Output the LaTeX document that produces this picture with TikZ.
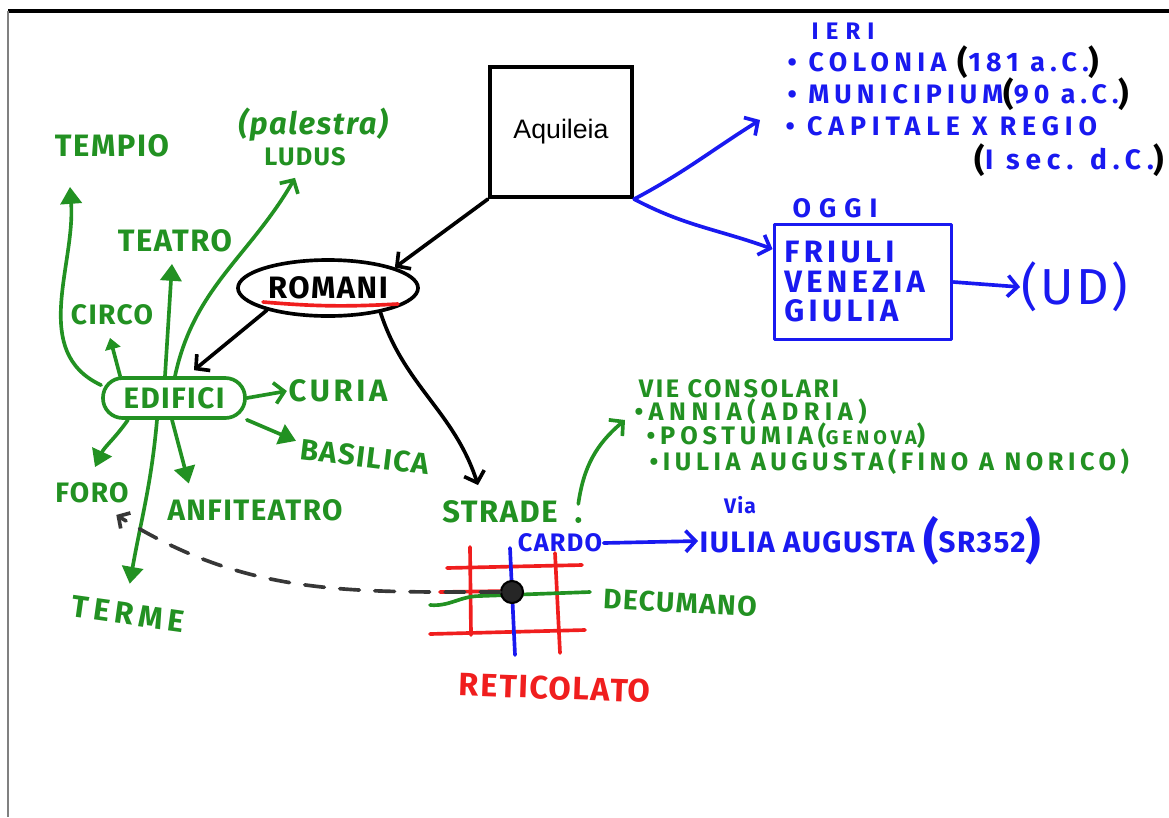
\documentclass[tikz,border=0pt]{standalone}
\usepackage{fontspec}
\setmainfont{Fira Sans}[LetterSpace=5]
\newfontfamily\arialfont{Liberation Sans}
\usetikzlibrary{arrows.meta,shapes.geometric}
\definecolor{hgreen}{RGB}{34,145,34}
\definecolor{hblue}{RGB}{25,25,240}
\definecolor{hred}{RGB}{240,30,30}
\definecolor{hgray}{RGB}{55,55,55}
\newcommand{\kpar}[1]{\raisebox{-1.5pt}{\color{black}\fontsize{23}{23}\selectfont #1}}
\newcommand{\fsz}[1]{\fontsize{#1}{#1}\selectfont}
\begin{document}
\begin{tikzpicture}[x=0.025cm,y=-0.025cm,
    pen/.style={line width=2.6pt,line cap=round,line join=round},
    tri/.style={-{Triangle[length=12pt,width=15pt]}},
    smalltri/.style={-{Triangle[length=8pt,width=11pt]}},
    barb/.style={-{Straight Barb[length=7pt,width=15pt]}},
    txt/.style 2 args={inner sep=1pt,font=\bfseries\fsz{#1}\addfontfeatures{LetterSpace=#2}},
    gtxt/.style={txt={#1}{5},text=hgreen},
    gtxt/.default=20,
    btxt/.style={txt={#1}{5},text=hblue},
    btxt/.default=20]
  \useasboundingbox (0,0) rectangle (1169,817);
  \fill[white] (0,0) rectangle (1169,817);
  \draw[line width=2.2pt] (8,11) -- (1169,11);
  \draw[gray,line width=1.5pt] (8,11) -- (8,817);

  % centre
  \node (aq) [draw,line width=3pt,minimum width=3.55cm,minimum height=3.25cm,
    font=\arialfont\fsz{19}] at (561,132) {Aquileia};
  \node (romani) [ellipse,draw,pen,minimum width=4.5cm,minimum height=1.4cm,txt={22}{5}] at (328,288) {ROMANI};
  \draw[pen,hred] ([shift={(-65,14)}]romani.center) to[bend right=4] ([shift={(70,16)}]romani.center);
  \draw[pen,barb] (aq.south west) -- (romani.17);

  % edifici
  \node (edifici) [draw,pen,hgreen,rounded corners=14pt,minimum width=3.55cm,minimum height=1cm,gtxt=21] at (174,398) {EDIFICI};
  \node (tempio) [gtxt=22] at (112,146) {TEMPIO};
  \node (palestra) [gtxt=22,font=\bfseries\itshape\fsz{22}] at (313,125) {(palestra)};
  \node (ludus) [gtxt=18] at (305,157) {LUDUS};
  \node (teatro) [gtxt=22] at (175,241) {TEATRO};
  \node (circo) [gtxt=20] at (112,315) {CIRCO};
  \node (curia) [txt={22}{12},text=hgreen] at (338,391) {CURIA};
  \node (basilica) [gtxt=21,rotate=-7] at (365,457) {BASILICA};
  \node (foro) [gtxt=20] at (92,493) {FORO};
  \node (anfiteatro) [gtxt=21] at (255,510) {ANFITEATRO};
  \node (terme) [txt={22}{16},text=hgreen,rotate=-8] at (128,614) {TERME};
  \draw[pen,barb] (romani.200) -- ([shift={(20,-6)}]edifici.north);

  \draw[pen,hgreen,tri] (edifici.170) to[out=155,in=-86] ([shift={(-42,28)}]tempio.south);
  \draw[pen,hgreen,smalltri] ([shift={(19,0)}]edifici.north west) -- ([shift={(-2,11)}]circo.south);
  \draw[pen,hgreen,tri] ([shift={(-9,0)}]edifici.north) -- ([shift={(-3,10)}]teatro.south);
  \draw[pen,hgreen,barb] ([shift={(1,0)}]edifici.north) to[out=78,in=-120] ([shift={(-10,10)}]ludus.south);
  \draw[pen,hgreen,barb] (edifici.east) -- (curia.west);
  \draw[pen,hgreen,tri] (edifici.south east) -- ([shift={(-3,-8)}]basilica.west);
  \draw[pen,hgreen,tri] ([shift={(-46,0)}]edifici.south) to[out=-125,in=65] ([shift={(3,-14)}]foro.north);
  \draw[pen,hgreen,tri] ([shift={(-2,0)}]edifici.south) -- ([shift={(23,-14)}]anfiteatro.north west);
  \draw[pen,hgreen,tri] ([shift={(-17,0)}]edifici.south) to[out=-95,in=80] ([shift={(0,-18)}]terme.north);

  % strade
  \node (strade) [gtxt=22] at (500,512) {STRADE};
  \draw[pen,barb] (romani.-25) to[out=-72,in=108] ([shift={(-22,-14)}]strade.north);
  \fill[hgreen] ([shift={(19,8)}]strade.east) circle[radius=3];
  \node (vie) [txt={18}{10},text=hgreen] at (739,389) {VIE CONSOLARI};
  \node (annia) [txt={18}{22},text=hgreen,anchor=west] at (633,412) {•ANNIA(ADRIA)};
  \node (postumia) [txt={18}{19},text=hgreen,anchor=west] at (645,436) {•POSTUMIA(\fsz{14}GENOVA\fsz{18})};
  \node (iuliavia) [txt={18}{18},text=hgreen,anchor=west] at (648,462) {•IULIA AUGUSTA(FINO A NORICO)};
  \draw[pen,hgreen,barb] ([shift={(19,-8)}]strade.east) to[out=82,in=-140] ([shift={(-8,8)}]annia.west);

  % reticolato
  \draw[pen,hred] (447,568) -- (582,565);
  \draw[pen,hred] (430,634) -- (585,630);
  \draw[pen,hred] (470,547) -- (471,635);
  \draw[pen,hred] (555,553) -- (560,653);
  \draw[pen,hred] (440,592) -- (510,591);
  \draw[pen,hgreen] (430,605) to[out=-5,in=180] (480,596) -- (590,592);
  \draw[pen,hblue] (510,548) -- (515,655);
  \node (centro) [circle,fill=black!85,draw=black,line width=1.5pt,minimum size=0.55cm,inner sep=0pt] at (512,592) {};
  \draw[pen,hgray,dash pattern=on 14pt off 11pt,-{Straight Barb[length=6pt,width=13pt]}] (centro.west) to[out=180,in=-32] ([shift={(-14,10)}]foro.south east);
  \node (cardo) [btxt=18] at (560,543) {CARDO};
  \node (via) [btxt=15] at (740,505) {Via};
  \node (iulia) [btxt=21,anchor=west] at (698,541) {IULIA AUGUSTA \raisebox{-4pt}{\fsz{34}(}\fsz{21}SR352\raisebox{-4pt}{\fsz{34})}};
  \draw[pen,hblue,barb] (cardo.east) -- (iulia.west);
  \node (decumano) [gtxt=20,rotate=-3] at (680,603) {DECUMANO};
  \node (reticolato) [txt={23}{5},text=hred,rotate=-2] at (555,688) {RETICOLATO};

  % ieri / oggi
  \coordinate (ierito) at (760,120);
  \node (ieri) [txt={17}{30},text=hblue] at (843,31) {IERI};
  \node (colonia) [txt={19}{20},text=hblue,anchor=west] at (786,62) {• COLONIA \kpar{(}181 a.C.\kpar{)}};
  \node (municipium) [txt={19}{19},text=hblue,anchor=west] at (786,94) {• MUNICIPIUM\kpar{(}90 a.C.\kpar{)}};
  \node (capitale) [txt={19}{22},text=hblue,anchor=west] at (784,126) {• CAPITALE X REGIO};
  \node (isec) [txt={20}{21},text=hblue,anchor=east] at (1166,160) {\kpar{(}I sec. d.C.\kpar{)}};
  \node (oggi) [txt={19}{30},text=hblue] at (835,208) {OGGI};
  \node (fvg) [draw,pen,hblue,minimum width=4.43cm,minimum height=2.88cm,align=left,text width=3.93cm,
    inner xsep=0.25cm,font=\bfseries\fsz{22}\addfontfeatures{LetterSpace=14}] at (863,282)
    {FRIULI\\[-1pt]VENEZIA\\[-1pt]GIULIA};
  \node (ud) [btxt=36,font=\fsz{36}] at (1075,287) {(UD)};
  \draw[pen,hblue,barb] (aq.south east) to[out=28,in=-148] (ierito);
  \draw[pen,hblue,barb] (aq.south east) to[out=-28,in=160] (fvg.160);
  \draw[pen,hblue,barb] (fvg.east) -- (ud.west);
\end{tikzpicture}
\end{document}
